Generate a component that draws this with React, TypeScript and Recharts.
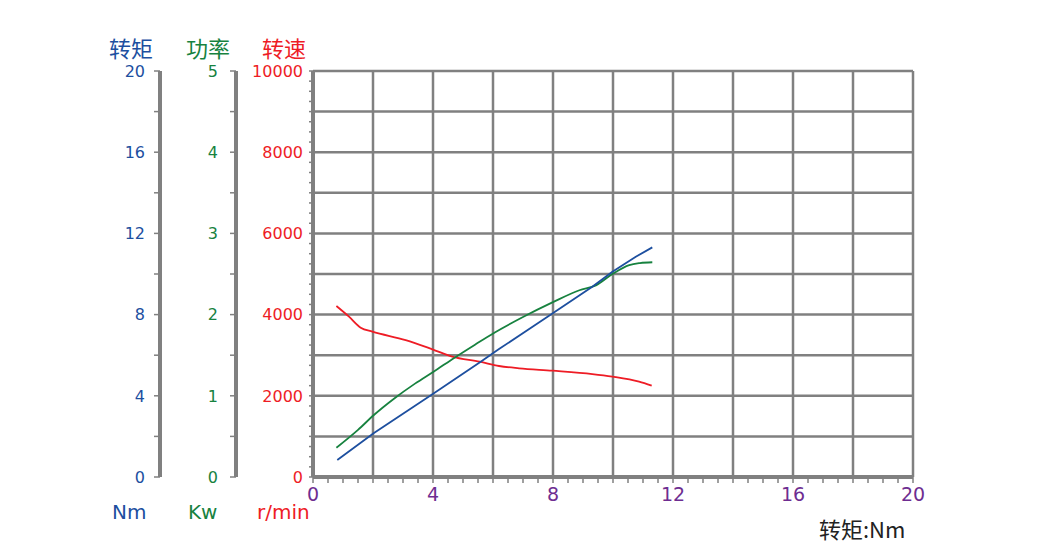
import React from "react";
import {
  LineChart,
  Line,
  XAxis,
  YAxis,
  ReferenceLine,
} from "recharts";

// 转速 curve (x: torque Nm, y: r/min)
const speedT = [0.78, 1.2, 1.59, 1.98, 3.09, 3.98, 4.64, 5.56, 6.2, 6.87, 7.98, 9.31, 9.98, 10.87, 11.29];
const speedRpm = [4212, 3949, 3678, 3580, 3374, 3145, 2963, 2840, 2734, 2677, 2619, 2536, 2471, 2347, 2249];

// 功率 curve (Kw)
const powerT = [0.78, 1.5, 2.02, 2.72, 3.4, 4.03, 4.72, 5.4, 6.06, 7.0, 7.98, 8.88, 9.43, 9.98, 10.54, 10.9, 11.31];
const powerKw = [0.36, 0.58, 0.76, 0.97, 1.15, 1.3, 1.47, 1.63, 1.78, 1.97, 2.15, 2.3, 2.36, 2.5, 2.61, 2.635, 2.645];

// 转矩 curve (Nm)
const torqueT = [0.81, 2.02, 4.03, 5.59, 6.2, 7.98, 9.31, 9.98, 10.76, 11.31];
const torqueNm = [0.84, 2.15, 4.12, 5.68, 6.3, 8.06, 9.37, 10.11, 10.85, 11.31];

const xTicks = Array.from({ length: 41 }, (_, i) => i * 0.5);
const xGrid = [2, 4, 6, 8, 10, 12, 14, 16, 18, 20];
const rpmTicks = Array.from({ length: 41 }, (_, i) => i * 250);
const rpmGrid = [1000, 2000, 3000, 4000, 5000, 6000, 7000, 8000, 9000, 10000];
const kwTicks = [0, 0.5, 1, 1.5, 2, 2.5, 3, 3.5, 4, 4.5, 5];
const nmTicks = [0, 2, 4, 6, 8, 10, 12, 14, 16, 18, 20];

const speedData = speedT.map((t, i) => ({ t, v: speedRpm[i] }));
const powerData = powerT.map((t, i) => ({ t, v: powerKw[i] }));
const torqueData = torqueT.map((t, i) => ({ t, v: torqueNm[i] }));

const BLUE = "#1d4f9f";
const GREEN = "#17823f";
const RED = "#ee1c25";
const PURPLE = "#6e2d91";
const GRAY = "#808080";
const FONT = "DejaVu Sans, sans-serif";
const CJK = "Noto Sans CJK SC, sans-serif";

// axis ids sort alphabetically: a_ sits next to the plot, c_ is outermost
const RPM = "a_rpm";
const KW = "b_kw";
const NM = "c_nm";

const yTick = (color: string, step: number) => (props: any) => {
  const { x, y, payload } = props;
  const v = payload.value as number;
  if (v % step !== 0) return <g />;
  return (
    <text x={x} y={y} dy="0.36em" textAnchor="end" fill={color} fontSize={16} fontFamily={FONT}>
      {v}
    </text>
  );
};

const xTick = (props: any) => {
  const { x, y, payload } = props;
  const v = payload.value as number;
  if (v % 4 !== 0) return <g />;
  return (
    <text x={x} y={y} dy="0.75em" textAnchor="middle" fill={PURPLE} fontSize={19} fontFamily={FONT}>
      {v}
    </text>
  );
};

const txt = (color: string, size: number, family = FONT): React.CSSProperties => ({
  position: "absolute",
  color,
  fontSize: size,
  fontFamily: family,
  lineHeight: 1,
  whiteSpace: "nowrap",
});

export default function App() {
  return (
    <div style={{ position: "absolute", left: 0, top: 0, width: 1040, height: 559, background: "#fff" }}>
      <LineChart
        width={1040}
        height={559}
        margin={{ top: 71, right: 127, bottom: 42, left: 0 }}
      >
        <XAxis
          dataKey="t"
          type="number"
          domain={[0, 20]}
          ticks={xTicks}
          interval={0}
          allowDuplicatedCategory={false}
          tick={xTick}
          tickSize={6}
          tickMargin={4}
          tickLine={{ stroke: GRAY, strokeWidth: 1.5 }}
          axisLine={{ stroke: GRAY, strokeWidth: 4 }}
          height={40}
        />
        <YAxis
          yAxisId={RPM}
          orientation="left"
          type="number"
          width={77}
          domain={[0, 10000]}
          ticks={rpmTicks}
          interval={0}
          tick={yTick(RED, 2000)}
          tickSize={4}
          tickMargin={6}
          tickLine={{ stroke: GRAY, strokeWidth: 1.5 }}
          axisLine={{ stroke: GRAY, strokeWidth: 4 }}
        />
        <YAxis
          yAxisId={KW}
          orientation="left"
          type="number"
          width={76}
          domain={[0, 5]}
          ticks={kwTicks}
          interval={0}
          tick={yTick(GREEN, 1)}
          tickSize={6}
          tickMargin={12}
          tickLine={{ stroke: GRAY, strokeWidth: 1.5 }}
          axisLine={{ stroke: GRAY, strokeWidth: 4 }}
        />
        <YAxis
          yAxisId={NM}
          orientation="left"
          type="number"
          width={160}
          domain={[0, 20]}
          ticks={nmTicks}
          interval={0}
          tick={yTick(BLUE, 4)}
          tickSize={6}
          tickMargin={9}
          tickLine={{ stroke: GRAY, strokeWidth: 1.5 }}
          axisLine={{ stroke: GRAY, strokeWidth: 4 }}
        />

        {rpmGrid.map((v) => (
          <ReferenceLine key={`h${v}`} yAxisId={RPM} y={v} stroke={GRAY} strokeWidth={2.5} />
        ))}
        {xGrid.map((v) => (
          <ReferenceLine key={`v${v}`} yAxisId={RPM} x={v} stroke={GRAY} strokeWidth={2.5} />
        ))}

        <Line
          yAxisId={RPM}
          data={speedData}
          dataKey="v"
          type="monotone"
          stroke={RED}
          strokeWidth={1.8}
          dot={false}
          isAnimationActive={false}
        />
        <Line
          yAxisId={KW}
          data={powerData}
          dataKey="v"
          type="monotone"
          stroke={GREEN}
          strokeWidth={1.8}
          dot={false}
          isAnimationActive={false}
        />
        <Line
          yAxisId={NM}
          data={torqueData}
          dataKey="v"
          type="linear"
          stroke={BLUE}
          strokeWidth={1.8}
          dot={false}
          isAnimationActive={false}
        />
      </LineChart>

      <div style={{ ...txt(BLUE, 22, CJK), left: 109, top: 36 }}>转矩</div>
      <div style={{ ...txt(GREEN, 22, CJK), left: 186, top: 36 }}>功率</div>
      <div style={{ ...txt(RED, 22, CJK), left: 262, top: 36 }}>转速</div>

      <div style={{ ...txt(BLUE, 20), left: 112, top: 502 }}>Nm</div>
      <div style={{ ...txt(GREEN, 20), left: 188, top: 502 }}>Kw</div>
      <div style={{ ...txt(RED, 20), left: 257, top: 502 }}>r/min</div>

      <div style={{ ...txt("#222", 22, CJK), left: 819, top: 517 }}>转矩:Nm</div>
    </div>
  );
}
